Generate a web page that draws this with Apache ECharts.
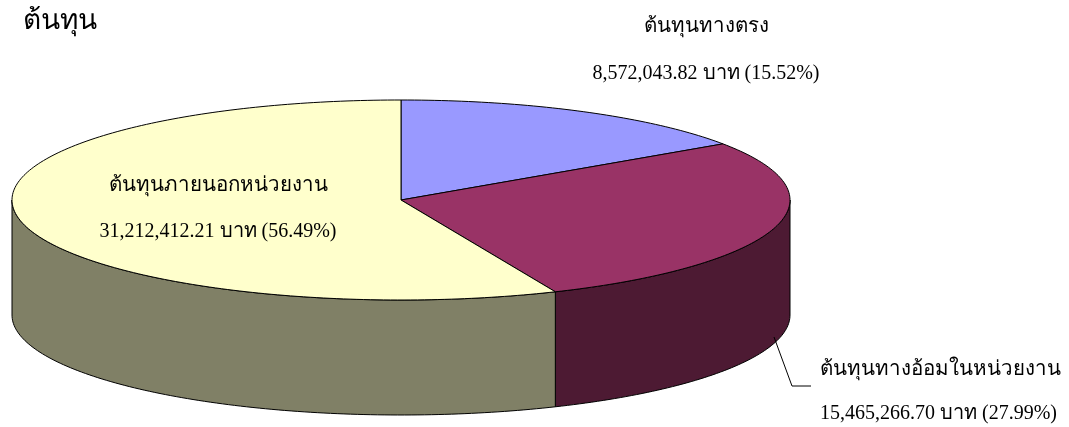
<!DOCTYPE html>
<html>
<head>
<meta charset="utf-8">
<script src="https://cdn.jsdelivr.net/npm/echarts@6/dist/echarts.min.js"></script>
<style>
  html, body { margin: 0; padding: 0; background: #fff; }
  #chart { width: 1069px; height: 427px; }
</style>
</head>
<body>
<div id="chart"></div>
<script>
// Cost breakdown (Thai baht)
const categories = ['ต้นทุนทางตรง', 'ต้นทุนทางอ้อมในหน่วยงาน', 'ต้นทุนภายนอกหน่วยงาน'];
const costs = [8572043.82, 15465266.70, 31212412.21];
const unitLabel = 'บาท';
const chartTitle = 'ต้นทุน';

// Face colours and darker shades for the rim
const topColors = ['#9999FF', '#993366', '#FFFFCC'];
const sideColors = ['#4D4D80', '#4D1A33', '#808066'];

const FONT = "'Liberation Serif', 'Times New Roman', serif";

// Ellipse geometry of the tilted pie
const PIE = { cx: 401, cy: 200, rx: 389, ry: 100, depth: 115 };

// Label anchors per slice: name line, value line, alignment, optional leader line
const LABELS = [
  { x: 706, y1: 27, y2: 74, align: 'center' },
  { x: 820, y1: 370, y2: 414, align: 'left', leader: [[774, 337], [792, 386], [811, 386]] },
  { x: 218, y1: 186, y2: 232, align: 'center' }
];

const total = costs.reduce((a, b) => a + b, 0);

function pt(theta, dy) {
  // theta: degrees clockwise from 12 o'clock
  const r = theta * Math.PI / 180;
  return [PIE.cx + PIE.rx * Math.sin(r), PIE.cy - PIE.ry * Math.cos(r) + (dy || 0)];
}

function arcPoints(a0, a1, dy) {
  const pts = [];
  const n = Math.max(2, Math.ceil(Math.abs(a1 - a0)));
  for (let k = 0; k <= n; k++) pts.push(pt(a0 + (a1 - a0) * k / n, dy));
  return pts;
}

function fmt(v) {
  return v.toLocaleString('en-US', { minimumFractionDigits: 2, maximumFractionDigits: 2 });
}

function renderItem(params, api) {
  const i = params.dataIndex;
  const v = api.value(1);
  let start = 0;
  for (let k = 0; k < i; k++) start += costs[k];
  const a0 = start / total * 360;
  const a1 = (start + v) / total * 360;
  const children = [];

  // Visible rim: the part of the slice facing the viewer (90°..270°)
  const s0 = Math.max(a0, 90), s1 = Math.min(a1, 270);
  if (s1 > s0) {
    children.push({
      type: 'polygon',
      z2: 1,
      shape: { points: arcPoints(s0, s1, 0).concat(arcPoints(s1, s0, PIE.depth)) },
      style: { fill: sideColors[i], stroke: '#000', lineWidth: 1 }
    });
  }

  // Top face
  children.push({
    type: 'polygon',
    z2: 5,
    shape: { points: [[PIE.cx, PIE.cy]].concat(arcPoints(a0, a1, 0)) },
    style: { fill: topColors[i], stroke: '#000', lineWidth: 1 }
  });

  // Labels
  const L = LABELS[i];
  const pct = (v / total * 100).toFixed(2) + '%';
  children.push({
    type: 'text', z2: 10,
    style: { x: L.x, y: L.y1, text: categories[i], fill: '#000', font: '20.5px ' + FONT,
             align: L.align, verticalAlign: 'middle' }
  });
  children.push({
    type: 'text', z2: 10,
    style: { x: L.x, y: L.y2, text: fmt(v) + ' ' + unitLabel + ' (' + pct + ')', fill: '#000',
             font: '20px ' + FONT, align: L.align, verticalAlign: 'middle' }
  });
  if (L.leader) {
    children.push({
      type: 'polyline', z2: 10,
      shape: { points: L.leader },
      style: { stroke: '#000', lineWidth: 1, fill: null }
    });
  }
  return { type: 'group', children: children };
}

const chart = echarts.init(document.getElementById('chart'), null, { renderer: 'canvas' });
chart.setOption({
  animation: false,
  backgroundColor: '#fff',
  title: {
    text: chartTitle, left: 18, top: 3,
    textStyle: { fontFamily: FONT, fontSize: 28, fontWeight: 'normal', color: '#000' }
  },
  series: [{
    type: 'custom',
    coordinateSystem: 'none',
    renderItem: renderItem,
    data: costs.map((v, i) => [i, v])
  }]
});
</script>
</body>
</html>
